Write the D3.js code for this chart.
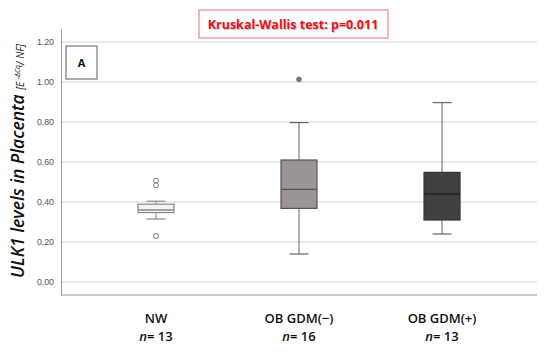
<!DOCTYPE html>
<html>
<head>
<meta charset="utf-8">
<script src="https://cdn.jsdelivr.net/npm/d3@7"></script>
<style>
  body { margin: 0; background: #fff; }
  text { font-family: "Open Sans", "Noto Sans", sans-serif; }
</style>
</head>
<body>
<svg id="chart" width="550" height="352"></svg>
<script>
// groups and their values
const groups = ["NW", "OB GDM(\u2212)", "OB GDM(+)"];
const nCounts = [13, 16, 13];
const whiskerLow = [0.315, 0.14, 0.24];
const q1 = [0.347, 0.368, 0.31];
const median = [0.36, 0.463, 0.44];
const q3 = [0.389, 0.61, 0.548];
const whiskerHigh = [0.404, 0.797, 0.897];
const outliers = [[0.507, 0.483, 0.23], [1.013], []];
const yTicks = [0, 0.2, 0.4, 0.6, 0.8, 1.0, 1.2];

const boxFill = ["#f3f3f3", "#9b9494", "#404040"];
const boxStroke = ["#8a8a8a", "#555", "#333"];
const medianStroke = ["#8a8a8a", "#555", "#222"];
const outFill = ["#fff", "#777", "#fff"];

const svg = d3.select("#chart");

const plotL = 61, plotR = 537, plotT = 29, plotB = 295;

const y = d3.scaleLinear().domain([-0.065, 1.265]).range([plotB, plotT]);
const x = d3.scalePoint().domain(groups).range([plotL, plotR]).padding(0.664);

// grid lines
svg.append("g")
  .selectAll("line")
  .data(yTicks)
  .enter()
  .append("line")
  .attr("x1", plotL).attr("x2", plotR)
  .attr("y1", d => y(d)).attr("y2", d => y(d))
  .attr("stroke", "#d6d6d6")
  .attr("stroke-width", 1.2);

// axes (just the lines + tick labels)
const yAxis = svg.append("g")
  .attr("transform", `translate(${plotL},0)`)
  .call(d3.axisLeft(y).tickValues(yTicks).tickFormat(d3.format(".2f")).tickSize(0).tickPadding(7));
yAxis.select(".domain").attr("stroke", "#9a9a9a");
yAxis.selectAll("text")
  .attr("fill", "#555")
  .style("font-family", "Liberation Sans, Arial, sans-serif")
  .style("font-size", "8.8px");

svg.append("line")
  .attr("x1", plotL).attr("x2", plotR)
  .attr("y1", plotB).attr("y2", plotB)
  .attr("stroke", "#9a9a9a");

// boxes
const boxW = 36, capW = 19;
const g = svg.append("g")
  .selectAll("g")
  .data(groups)
  .enter()
  .append("g");

g.append("line")
  .attr("x1", d => x(d)).attr("x2", d => x(d))
  .attr("y1", (d, i) => y(whiskerLow[i])).attr("y2", (d, i) => y(whiskerHigh[i]))
  .attr("stroke", (d, i) => i === 0 ? "#8a8a8a" : "#666");

g.selectAll(".cap")
  .data((d, i) => [whiskerLow[i], whiskerHigh[i]].map(v => ({ g: d, v: v, i: i })))
  .enter()
  .append("line")
  .attr("x1", d => x(d.g) - capW / 2).attr("x2", d => x(d.g) + capW / 2)
  .attr("y1", d => y(d.v)).attr("y2", d => y(d.v))
  .attr("stroke", d => d.i === 0 ? "#8a8a8a" : "#666")
  .attr("stroke-width", 1.2);

g.append("rect")
  .attr("x", d => x(d) - boxW / 2)
  .attr("width", boxW)
  .attr("y", (d, i) => y(q3[i]))
  .attr("height", (d, i) => y(q1[i]) - y(q3[i]))
  .attr("fill", (d, i) => boxFill[i])
  .attr("stroke", (d, i) => boxStroke[i])
  .attr("stroke-width", 1.2);

g.append("line")
  .attr("x1", d => x(d) - boxW / 2).attr("x2", d => x(d) + boxW / 2)
  .attr("y1", (d, i) => y(median[i])).attr("y2", (d, i) => y(median[i]))
  .attr("stroke", (d, i) => medianStroke[i])
  .attr("stroke-width", 1.3);

g.selectAll(".out")
  .data((d, i) => outliers[i].map(v => ({ g: d, v: v, i: i })))
  .enter()
  .append("circle")
  .attr("cx", d => x(d.g))
  .attr("cy", d => y(d.v))
  .attr("r", 2.4)
  .attr("fill", d => outFill[d.i])
  .attr("stroke", "#777")
  .attr("stroke-width", 1);

// x labels
const xl = svg.append("g")
  .selectAll("text")
  .data(groups)
  .enter()
  .append("text")
  .attr("text-anchor", "middle")
  .attr("font-size", 13)
  .attr("font-weight", 600)
  .attr("fill", "#111");
xl.append("tspan")
  .attr("x", d => x(d))
  .attr("y", 323)
  .text(d => d);
xl.append("tspan")
  .attr("x", d => x(d))
  .attr("y", 341)
  .html((d, i) => `<tspan font-style="italic">n</tspan>= ${nCounts[i]}`);

// y title
const yt = svg.append("text")
  .attr("transform", "translate(24,161) rotate(-90)")
  .attr("text-anchor", "middle")
  .attr("fill", "#111");
yt.append("tspan")
  .attr("font-size", 17.5)
  .attr("font-weight", 600)
  .attr("font-style", "italic")
  .text("ULK1 levels in Placenta ");
yt.append("tspan")
  .attr("font-size", 10)
  .attr("font-style", "italic")
  .text("[E ");
yt.append("tspan")
  .attr("font-size", 7)
  .attr("font-style", "italic")
  .attr("dy", -4)
  .text("-\u0394Cq");
yt.append("tspan")
  .attr("font-size", 10)
  .attr("font-style", "italic")
  .attr("dy", 4)
  .text("/ NF]");

// panel letter
svg.append("rect")
  .attr("x", 66).attr("y", 46)
  .attr("width", 31).attr("height", 33)
  .attr("fill", "#fff")
  .attr("stroke", "#777")
  .attr("stroke-width", 1.2);
svg.append("text")
  .attr("x", 81.5).attr("y", 67)
  .attr("text-anchor", "middle")
  .attr("font-size", 11)
  .attr("font-weight", 700)
  .attr("fill", "#111")
  .text("A");

// test annotation
svg.append("rect")
  .attr("x", 199).attr("y", 10)
  .attr("width", 189).attr("height", 28)
  .attr("fill", "#fff")
  .attr("stroke", "#f08a8a")
  .attr("stroke-width", 1.2);
svg.append("text")
  .attr("x", 293).attr("y", 29)
  .attr("text-anchor", "middle")
  .attr("font-size", 12.5)
  .attr("font-weight", 700)
  .attr("fill", "#e8121a")
  .style("text-shadow", "1px 1px 1px rgba(0,0,0,0.25)")
  .text("Kruskal-Wallis test: p=0.011");
</script>
</body>
</html>
